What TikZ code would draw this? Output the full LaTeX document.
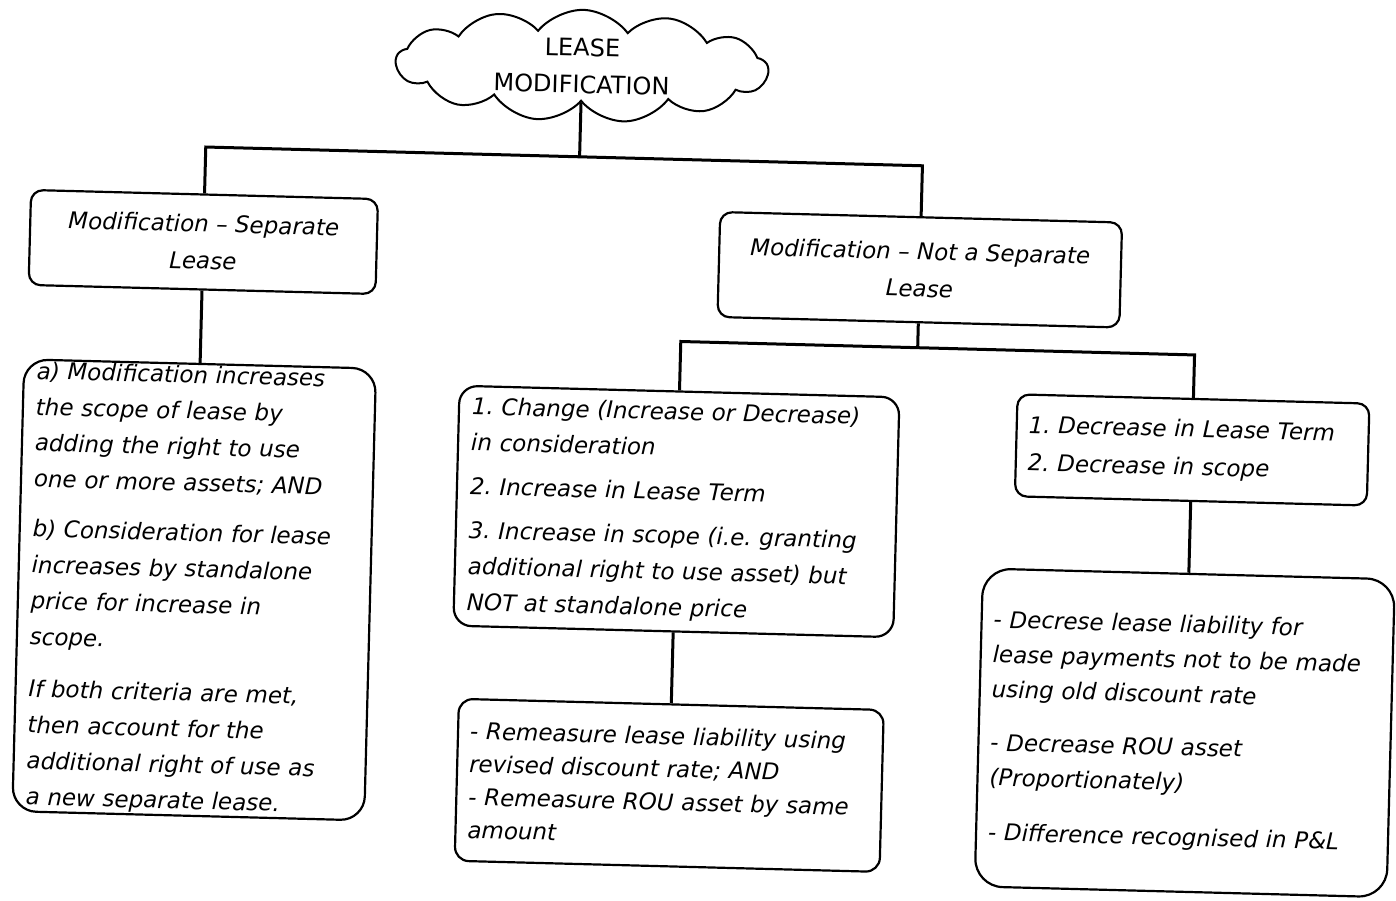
\documentclass[tikz,border=0pt]{standalone}
\usepackage{fontspec}
\setmainfont{DejaVu Sans}
\usetikzlibrary{shapes.symbols}
\frenchspacing

\begin{document}
\begin{tikzpicture}[x=1pt,y=-1pt,
  box/.style={draw=black, line width=2.2pt, rounded corners=12pt, inner sep=0pt, fill=white},
  txt/.style={font=\itshape\fontsize{23}{36}\selectfont, align=left},
  ctxt/.style={font=\itshape\fontsize{23}{37}\selectfont, align=center},
  link/.style={draw=black, line width=3pt},
  cloudnode/.style={cloud, cloud puffs=13, cloud puff arc=105, aspect=3.2,
    draw=black, line width=2pt, minimum width=372pt, minimum height=112pt,
    inner sep=0pt, font=\fontsize{24}{37}\selectfont, align=center}]

\useasboundingbox[fill=white] (0,0) rectangle (1396,900);

\begin{scope}[rotate around={-1.5:(698,450)}, transform shape]

  % title cloud
  \node[cloudnode] (top) at (572,69) {LEASE\\MODIFICATION};

  % second level
  \node[box, minimum width=347pt, minimum height=95pt, ctxt] (A) at (198,255)
    {Modification – Separate\\Lease};
  \node[box, minimum width=402pt, minimum height=105pt, ctxt] (B) at (915,264)
    {Modification – Not a Separate\\Lease};

  % separate lease criteria
  \node[box, rounded corners=24pt, minimum width=352pt, minimum height=452pt,
        txt, text width=326pt] (C) at (198,603)
    {a) Modification increases\\
     the scope of lease by\\
     adding the right to use\\
     one or more assets; AND\\[14pt]
     b) Consideration for lease\\
     increases by standalone\\
     price for increase in\\
     scope.\\[16pt]
     If both criteria are met,\\
     then account for the\\
     additional right of use as\\
     a new separate lease.};

  % not a separate lease: increases
  \node[box, rounded corners=18pt, minimum width=440pt, minimum height=240pt,
        txt, text width=414pt] (D) at (678,512)
    {1. Change (Increase or Decrease)\\
     in consideration\\[8pt]
     2. Increase in Lease Term\\[8pt]
     3. Increase in scope (i.e. granting\\
     additional right to use asset) but\\
     NOT at standalone price};

  % not a separate lease: decreases
  \node[box, minimum width=352pt, minimum height=102pt,
        txt, text width=328pt] (E) at (1192,437)
    {1. Decrease in Lease Term\\[2pt]
     2. Decrease in scope};

  % accounting for increases
  \node[box, rounded corners=14pt, minimum width=425pt, minimum height=162pt,
        txt, text width=401pt, font=\itshape\fontsize{23}{33}\selectfont] (F) at (678,786)
    {- Remeasure lease liability using\\
     revised discount rate; AND\\
     - Remeasure ROU asset by same\\
     amount};

  % accounting for decreases
  \node[box, rounded corners=28pt, minimum width=412pt, minimum height=318pt,
        txt, text width=388pt, font=\itshape\fontsize{23}{35}\selectfont] (G) at (1192,720)
    {- Decrese lease liability for\\
     lease payments not to be made\\
     using old discount rate\\[18pt]
     - Decrease ROU asset\\
     (Proportionately)\\[20pt]
     - Difference recognised in P\&L};

  % junction points
  \coordinate (j1) at (572,160);
  \coordinate (j2) at (915,342);

  % connectors
  \draw[link] (top.south) -- (j1);
  \draw[link] (A.north) |- (j1) -| (B.north);
  \draw[link] (A.south) -- (C.north);
  \draw[link] (B.south) -- (j2);
  \draw[link] (D.north) |- (j2) -| (E.north);
  \draw[link] (D.south) -- (F.north);
  \draw[link] (E.south) -- (G.north);

\end{scope}
\end{tikzpicture}
\end{document}
